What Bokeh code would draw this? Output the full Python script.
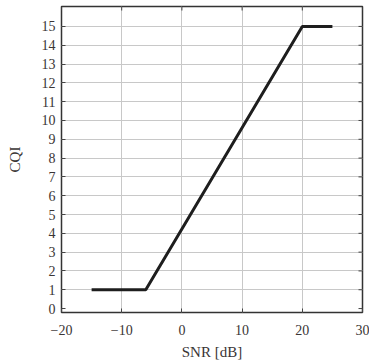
import math
from bokeh.plotting import figure
from bokeh.models import FixedTicker, Range1d
from bokeh.embed import file_html
from bokeh.resources import INLINE

snr_db = [-15, -6, 20, 25]
cqi = [1, 1, 15, 15]
x_ticks = [-20, -10, 0, 10, 20, 30]
y_ticks = list(range(0, 16))

FONT = "Liberation Serif"
X0, X1 = -20, 30
Y0, Y1 = -0.21, 16.06

p = figure(width=369, height=362, output_backend="svg", toolbar_location=None,
           x_range=Range1d(X0, X1), y_range=Range1d(Y0, Y1),
           min_border_left=61, min_border_right=7, min_border_top=6, min_border_bottom=0)

p.line(snr_db, cqi, line_color="#1e1e1e", line_width=3)

p.xaxis.ticker = FixedTicker(ticks=x_ticks)
p.yaxis.ticker = FixedTicker(ticks=y_ticks)
p.xaxis.major_label_overrides = {t: (str(t).replace("-", "\u2212")) for t in x_ticks}
p.xaxis.axis_label = "SNR [dB]"
p.yaxis.axis_label = "CQI"

for ax in [p.xaxis[0], p.yaxis[0]]:
    ax.major_tick_in = 4
    ax.major_tick_out = 0
    ax.minor_tick_line_color = None
    ax.axis_line_color = None
    ax.major_tick_line_color = "#444444"
    ax.major_label_text_font = FONT
    ax.major_label_text_font_size = "14px"
    ax.major_label_text_color = "#3a3535"
    ax.axis_label_text_font = FONT
    ax.axis_label_text_font_size = "15px"
    ax.axis_label_text_font_style = "normal"
    ax.axis_label_text_color = "#3a3535"

p.xaxis.major_label_standoff = 12
p.xaxis.axis_label_standoff = 6
p.yaxis.major_label_standoff = 6
p.yaxis.axis_label_standoff = 16

# inward tick marks on the right and top frame edges
p.ray(x=[X1] * len(y_ticks), y=y_ticks, length=4, length_units="screen",
      angle=math.pi, line_color="#444444", line_width=1)
p.ray(x=x_ticks, y=[Y1] * len(x_ticks), length=4, length_units="screen",
      angle=-math.pi / 2, line_color="#444444", line_width=1)

p.xgrid.ticker = FixedTicker(ticks=[-10, 0, 10, 20])
p.ygrid.ticker = FixedTicker(ticks=list(range(1, 16)))
p.grid.grid_line_color = "#c8c8c8"
p.grid.grid_line_width = 1

p.outline_line_color = "#333333"
p.outline_line_width = 1.5
p.background_fill_color = "white"
p.border_fill_color = "white"

open("out.html", "w").write(file_html(p, INLINE))
